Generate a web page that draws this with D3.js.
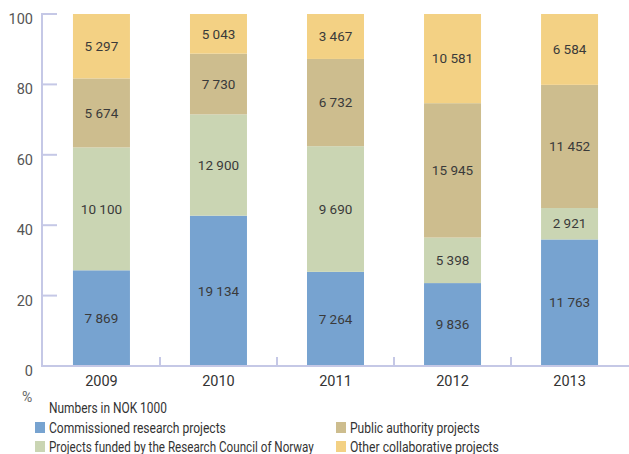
<!DOCTYPE html>
<html>
<head>
<meta charset="utf-8">
<script src="https://cdn.jsdelivr.net/npm/d3@7"></script>
<style>
  body { margin: 0; background: #fff; }
  text { font-family: Roboto, "DejaVu Sans", sans-serif; }
</style>
</head>
<body>
<svg id="chart" width="629" height="454"></svg>
<script>
var years = ["2009", "2010", "2011", "2012", "2013"];
var commissioned = [7869, 19134, 7264, 9836, 11763];
var researchCouncil = [10100, 12900, 9690, 5398, 2921];
var publicAuthority = [5674, 7730, 6732, 15945, 11452];
var otherCollab = [5297, 5043, 3467, 10581, 6584];
var yTicks = [0, 20, 40, 60, 80, 100];

var seriesNames = ["Commissioned research projects", "Projects funded by the Research Council of Norway",
  "Public authority projects", "Other collaborative projects"];
var keys = ["a", "b", "c", "d"];
var colors = ["#77a3d0", "#cad5b3", "#cdbd8e", "#f3d184"];

var rows = years.map(function(y, i) {
  return {year: y, a: commissioned[i], b: researchCouncil[i], c: publicAuthority[i], d: otherCollab[i]};
});

var svg = d3.select("#chart");
var axisColor = "#c5c8e6";

var x = d3.scaleBand().domain(years).range([43, 628]).paddingInner(0.513).paddingOuter(0.256);
var band = d3.scaleBand().domain(years).range([43, 628]);
var y = d3.scaleLinear().domain([0, 100]).range([366, 14]);

var stack = d3.stack().keys(keys).offset(d3.stackOffsetExpand);
var layers = stack(rows);

var g = svg.append("g");
layers.forEach(function(layer, li) {
  g.selectAll(null).data(layer).enter().append("rect")
    .attr("x", function(d) { return x(d.data.year); })
    .attr("width", x.bandwidth())
    .attr("y", function(d) { return y(d[1] * 100); })
    .attr("height", function(d) { return y(d[0] * 100) - y(d[1] * 100); })
    .attr("fill", colors[li]);
  g.selectAll(null).data(layer).enter().append("text")
    .attr("x", function(d) { return x(d.data.year) + x.bandwidth() / 2; })
    .attr("y", function(d) { return y((d[0] + d[1]) * 50); })
    .attr("dy", "0.35em")
    .attr("text-anchor", "middle")
    .attr("font-size", 13.5)
    .attr("fill", "#3a3a3a")
    .text(function(d) { return d3.format(",")(d.data[layer.key]).replace(/,/g, " "); });
});

// y axis
svg.append("line").attr("x1", 42).attr("x2", 42).attr("y1", 13).attr("y2", 367)
  .attr("stroke", axisColor).attr("stroke-width", 2);
yTicks.forEach(function(t) {
  if (t > 0) {
    svg.append("line").attr("x1", 42).attr("x2", 57).attr("y1", y(t)).attr("y2", y(t))
      .attr("stroke", axisColor).attr("stroke-width", 2);
  }
  svg.append("text").attr("x", 33).attr("y", y(t) + 5).attr("dy", "0.35em")
    .attr("text-anchor", "end").attr("font-size", 14.5).attr("fill", "#555")
    .text(t);
});

// x axis
svg.append("line").attr("x1", 41).attr("x2", 629).attr("y1", 366).attr("y2", 366)
  .attr("stroke", axisColor).attr("stroke-width", 2);
years.slice(1).forEach(function(yr) {
  svg.append("line").attr("x1", band(yr)).attr("x2", band(yr)).attr("y1", 357).attr("y2", 366)
    .attr("stroke", axisColor).attr("stroke-width", 2);
});
svg.selectAll(null).data(years).enter().append("text")
  .attr("x", function(d) { return x(d) + x.bandwidth() / 2; })
  .attr("y", 386)
  .attr("text-anchor", "middle").attr("font-size", 14.5).attr("fill", "#333")
  .text(function(d) { return d; });

svg.append("text").attr("x", 22).attr("y", 402).attr("font-size", 14).attr("fill", "#666").text("%");

// legend: DIN-like narrow font, so squeeze Roboto horizontally to the reference widths
function narrowText(px, py, str, w) {
  var t = svg.append("text").attr("font-size", 14).attr("fill", "#333").text(str);
  var k = w / t.node().getComputedTextLength();
  t.attr("transform", "translate(" + px + "," + py + ") scale(" + k + ",1)");
}
var legendWidths = [177, 265, 130, 149];
narrowText(49, 413, "Numbers in NOK 1000", 118);
var legPos = [[35, 433], [35, 452], [336, 433], [336, 452]];
seriesNames.forEach(function(name, i) {
  svg.append("rect").attr("x", legPos[i][0]).attr("y", legPos[i][1] - 11).attr("width", 10).attr("height", 11)
    .attr("fill", colors[i]);
  narrowText(legPos[i][0] + 14, legPos[i][1], name, legendWidths[i]);
});
</script>
</body>
</html>
